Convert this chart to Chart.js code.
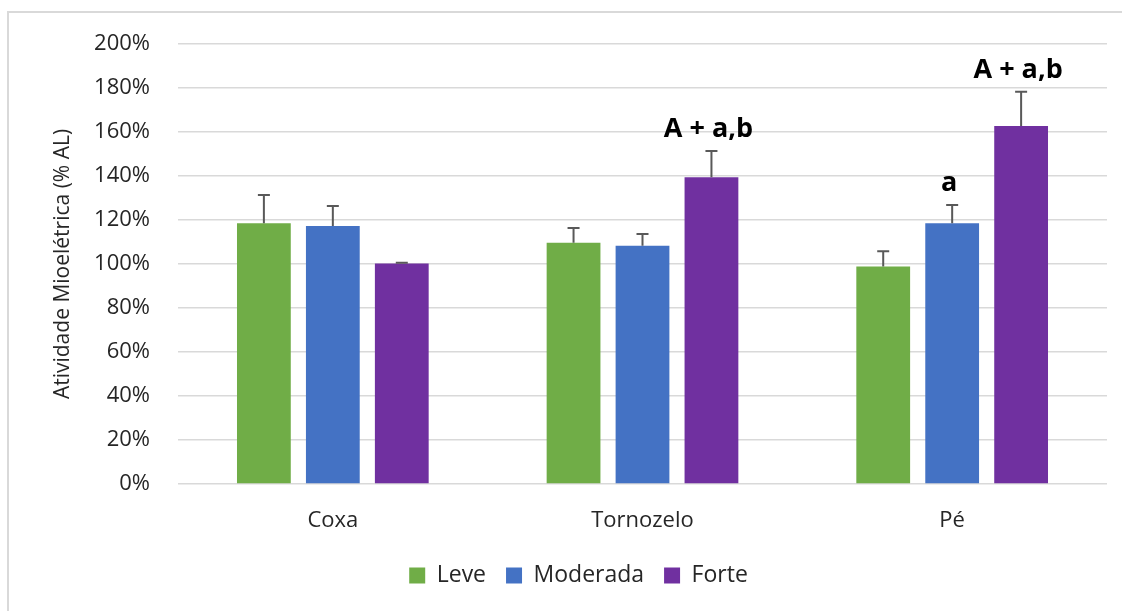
<!DOCTYPE html>
<html>
<head>
<meta charset="utf-8">
<title>Atividade Mioelétrica</title>
<script src="https://cdn.jsdelivr.net/npm/chart.js@4.4.1/dist/chart.umd.min.js"></script>
<style>
  html, body { margin: 0; padding: 0; background: #ffffff; }
  canvas { display: block; }
</style>
</head>
<body>
<canvas id="c" width="1122" height="611"></canvas>
<script>
// Muscle groups and intensity levels
const categories = ['Coxa', 'Tornozelo', 'Pé'];
const seriesNames = ['Leve', 'Moderada', 'Forte'];

// Mean activity (% AL) per group
const leve = [118.5, 109.7, 98.9];
const moderada = [117.3, 108.3, 118.5];
const forte = [100.2, 139.4, 162.7];

// Standard deviation (upper whisker only)
const leveErr = [12.9, 6.7, 6.9];
const moderadaErr = [9.1, 5.3, 8.3];
const forteErr = [0.4, 12.0, 15.6];

// Significance markers above bars
const leveMarks = ['', '', ''];
const moderadaMarks = ['', '', 'a'];
const forteMarks = ['', 'A + a,b', 'A + a,b'];

// Y axis tick values
const yTicks = [0, 20, 40, 60, 80, 100, 120, 140, 160, 180, 200];

const colors = ['#70AD47', '#4472C4', '#7030A0'];
const FONT = "'Open Sans', 'Liberation Sans', sans-serif";
const TEXT = '#262626';

const frame = {
  id: 'frame',
  beforeDraw(chart) {
    const ctx = chart.ctx;
    ctx.save();
    ctx.fillStyle = '#ffffff';
    ctx.fillRect(0, 0, chart.width, chart.height);
    ctx.strokeStyle = '#d9d9d9';
    ctx.lineWidth = 2;
    ctx.beginPath();
    ctx.moveTo(8, chart.height);
    ctx.lineTo(8, 12);
    ctx.lineTo(chart.width, 12);
    ctx.stroke();
    ctx.restore();
  }
};

const errorBars = {
  id: 'errorBars',
  afterDatasetsDraw(chart) {
    const ctx = chart.ctx;
    const y = chart.scales.y;
    ctx.save();
    ctx.strokeStyle = '#595959';
    ctx.lineWidth = 2;
    chart.data.datasets.forEach((ds, di) => {
      const meta = chart.getDatasetMeta(di);
      meta.data.forEach((bar, i) => {
        const top = y.getPixelForValue(ds.data[i] + ds.errors[i]);
        const base = y.getPixelForValue(ds.data[i]);
        ctx.beginPath();
        ctx.moveTo(bar.x, base);
        ctx.lineTo(bar.x, top);
        ctx.moveTo(bar.x - 6, top);
        ctx.lineTo(bar.x + 6, top);
        ctx.stroke();
      });
    });
    ctx.restore();
  }
};

const marks = {
  id: 'marks',
  afterDatasetsDraw(chart) {
    const ctx = chart.ctx;
    const y = chart.scales.y;
    ctx.save();
    ctx.fillStyle = '#000000';
    ctx.font = 'bold 27px ' + FONT;
    ctx.textAlign = 'center';
    ctx.textBaseline = 'alphabetic';
    chart.data.datasets.forEach((ds, di) => {
      const meta = chart.getDatasetMeta(di);
      meta.data.forEach((bar, i) => {
        const t = ds.marks[i];
        if (!t) return;
        const top = y.getPixelForValue(ds.data[i] + ds.errors[i]);
        ctx.fillText(t, bar.x - 3, top - 14);
      });
    });
    ctx.restore();
  }
};

const PAD_BOTTOM = 14;

new Chart(document.getElementById('c'), {
  type: 'bar',
  data: {
    labels: categories,
    datasets: [
      { label: seriesNames[0], data: leve, errors: leveErr, marks: leveMarks, backgroundColor: colors[0] },
      { label: seriesNames[1], data: moderada, errors: moderadaErr, marks: moderadaMarks, backgroundColor: colors[1] },
      { label: seriesNames[2], data: forte, errors: forteErr, marks: forteMarks, backgroundColor: colors[2] }
    ]
  },
  options: {
    responsive: false,
    animation: false,
    devicePixelRatio: 1,
    categoryPercentage: 0.668,
    barPercentage: 0.78,
    layout: { padding: { left: 50, right: 15, top: 44, bottom: PAD_BOTTOM } },
    plugins: {
      legend: {
        position: 'bottom',
        labels: {
          font: { family: FONT, size: 23 },
          color: TEXT,
          boxWidth: 16,
          boxHeight: 16,
          padding: 20
        }
      },
      tooltip: { enabled: false }
    },
    scales: {
      x: {
        grid: { display: false, drawTicks: false },
        border: { display: false },
        ticks: { font: { family: FONT, size: 22 }, color: TEXT, padding: 24 },
        afterFit(scale) {
          const lh = scale.chart.legend ? scale.chart.legend.height : 60;
          scale.height = scale.chart.height - PAD_BOTTOM - lh - 484;
        }
      },
      y: {
        min: 0,
        max: 200,
        afterBuildTicks(scale) {
          scale.ticks = yTicks.map(v => ({ value: v }));
        },
        grid: { color: '#d9d9d9', lineWidth: 1.5, drawTicks: false },
        border: { display: false },
        ticks: {
          font: { family: FONT, size: 22 },
          color: TEXT,
          padding: 28,
          callback: v => v + '%'
        },
        title: {
          display: true,
          text: 'Atividade Mioelétrica (% AL)',
          font: { family: FONT, size: 21 },
          color: TEXT,
          padding: 0
        },
        afterFit(scale) {
          scale.width = 128;
        }
      }
    }
  },
  plugins: [frame, errorBars, marks]
});
</script>
</body>
</html>
